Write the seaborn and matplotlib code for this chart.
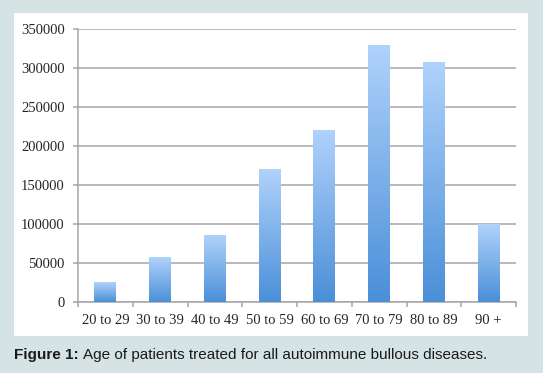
import numpy as np
import pandas as pd
import seaborn as sns
import matplotlib.pyplot as plt
from matplotlib.colors import LinearSegmentedColormap
from matplotlib.patches import Rectangle

# data
age_groups = ['20 to 29', '30 to 39', '40 to 49', '50 to 59', '60 to 69',
              '70 to 79', '80 to 89', '90 +']
patients = [25500, 56500, 85000, 169500, 220000, 329000, 307000, 99500]
y_ticks = [0, 50000, 100000, 150000, 200000, 250000, 300000, 350000]

df = pd.DataFrame({'age': age_groups, 'patients': patients})

sns.set_style('white')
plt.rcParams['font.family'] = ['Liberation Serif', 'DejaVu Serif']

fig = plt.figure(figsize=(5.43, 3.73), dpi=100)
fig.patch.set_facecolor('#d5e3e4')
# white panel behind the chart
fig.patches.append(Rectangle((14 / 543, 1 - 336 / 373), 514 / 543, 323 / 373,
                             transform=fig.transFigure, facecolor='white',
                             edgecolor='none', zorder=-10))

ax = fig.add_axes([78 / 543, 1 - 302 / 373, 438 / 543, 273 / 373])
ax.set_facecolor('none')
sns.barplot(data=df, x='age', y='patients', color='#7fb2ee', width=0.4, ax=ax,
            zorder=3)

# vertical gradient inside every bar (light on top, darker at bottom)
cmap = LinearSegmentedColormap.from_list('bar', ['#4a8fd8', '#b0d2fb'])
grad = np.linspace(0, 1, 256).reshape(-1, 1)
for p in ax.patches:
    x, w, h = p.get_x(), p.get_width(), p.get_height()
    ax.imshow(grad, extent=[x, x + w, 0, h], origin='lower', aspect='auto',
              cmap=cmap, zorder=4)
    p.set_visible(False)

ax.set_xlim(-0.5, len(age_groups) - 0.5)
ax.set_ylim(0, 350000)
ax.set_yticks(y_ticks)
ax.set_yticklabels([str(v) for v in y_ticks])
ax.set_xlabel('')
ax.set_ylabel('')

ax.yaxis.grid(True, color='#a6a6a6', linewidth=1.1)
ax.set_axisbelow(True)
for side in ['top', 'right']:
    ax.spines[side].set_visible(False)
for side in ['left', 'bottom']:
    ax.spines[side].set_color('#a6a6a6')
    ax.spines[side].set_linewidth(1.1)

# x ticks sit between the categories
ax.set_xticks(np.arange(len(age_groups)))
ax.set_xticks(np.arange(-0.5, len(age_groups)), minor=True)
ax.tick_params(axis='x', which='major', length=0, pad=9, labelsize=10.5,
               labelcolor='#262626')
ax.tick_params(axis='x', which='minor', length=3.6, width=1.1, color='#a6a6a6',
               direction='out', bottom=True)
ax.tick_params(axis='y', length=3.6, width=1.1, color='#a6a6a6', direction='out',
               left=True, labelsize=10.5, labelcolor='#262626', pad=6)

# caption
cap = fig.text(14 / 543, 1 - 355 / 373, 'Figure 1:', fontsize=11,
               fontweight='bold', family=['Liberation Sans', 'DejaVu Sans'],
               color='#1a1a1a', va='center')
fig.canvas.draw()
bb = cap.get_window_extent()
fig.text((bb.x1 + 4) / fig.bbox.width, 1 - 355 / 373,
         'Age of patients treated for all autoimmune bullous diseases.',
         fontsize=11, family=['Liberation Sans', 'DejaVu Sans'],
         color='#1a1a1a', va='center')

plt.savefig('out.png', dpi=100, facecolor=fig.get_facecolor())
